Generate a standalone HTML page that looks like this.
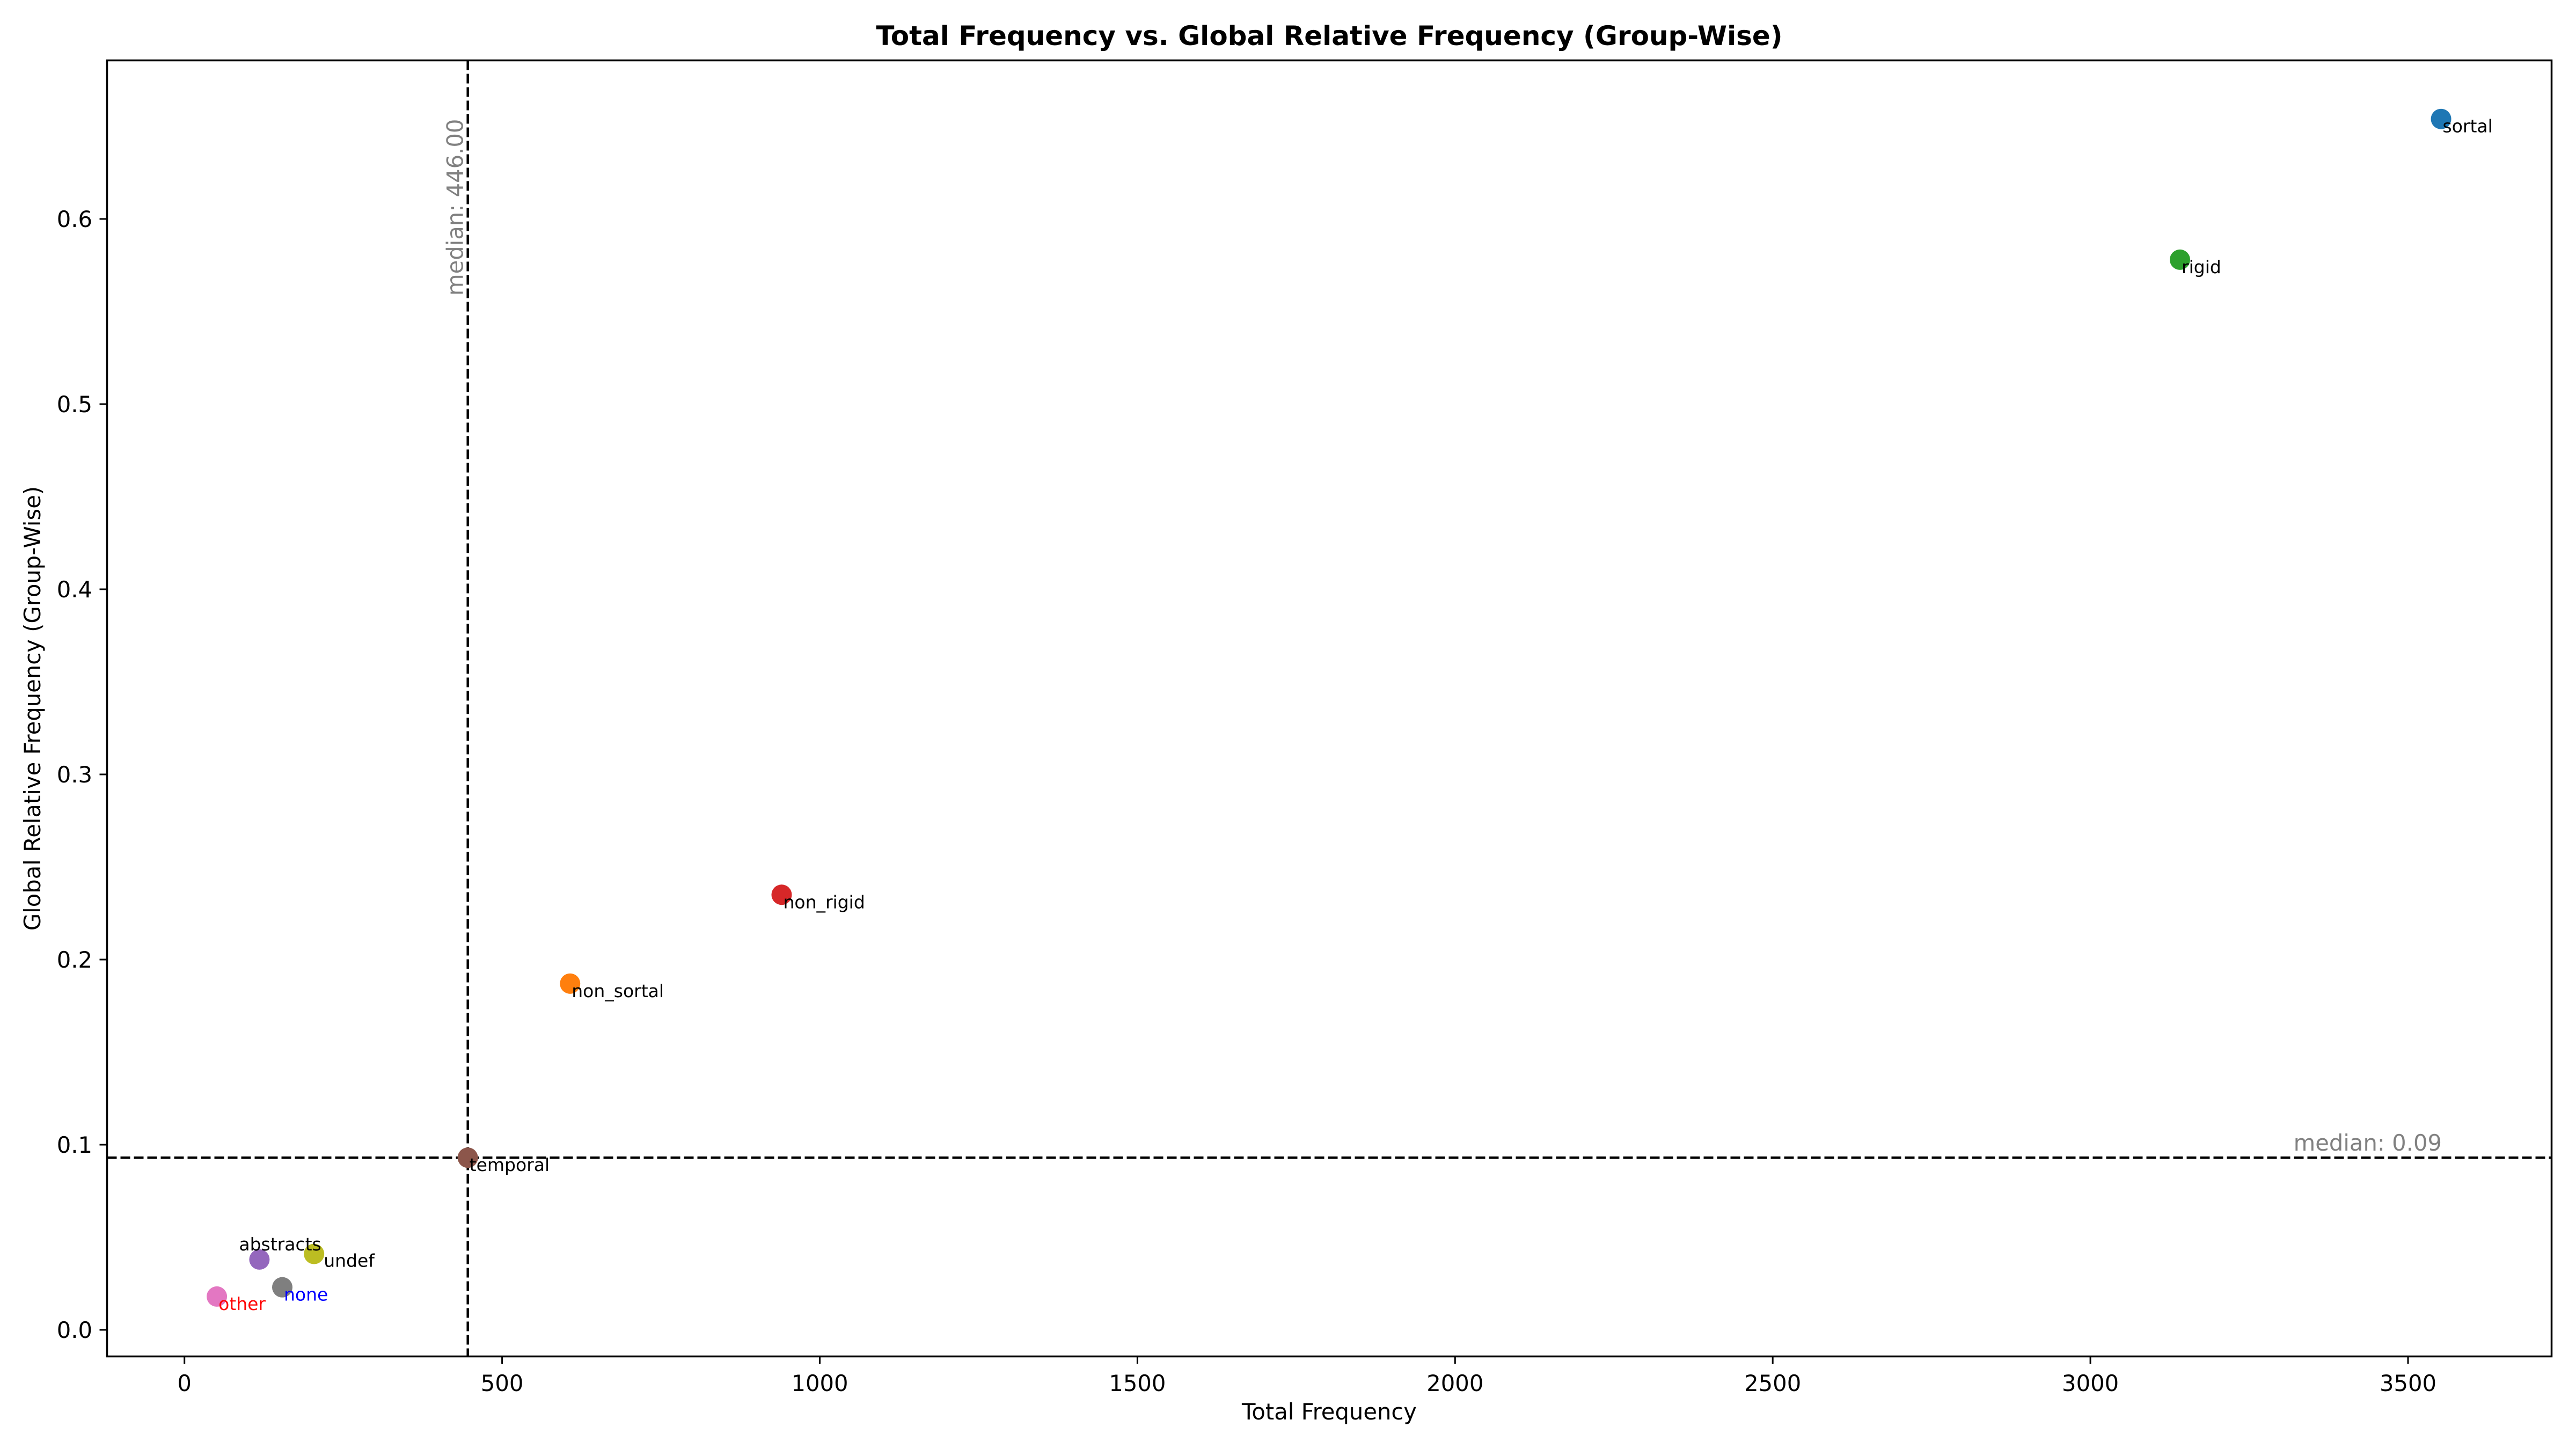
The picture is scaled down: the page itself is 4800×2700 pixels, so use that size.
<!DOCTYPE html>
<html><head><meta charset="utf-8"><style>
html,body{margin:0;padding:0;background:#fff;}
svg{display:block;font-family:"DejaVu Sans","Liberation Sans",sans-serif;}
</style></head><body>
<svg id="chart" width="4800" height="2700" viewBox="0 0 4800 2700" xmlns="http://www.w3.org/2000/svg">
<rect x="0" y="0" width="4800" height="2700" fill="#fff"/>
<text x="2477" y="84" font-size="50" font-weight="bold" text-anchor="middle">Total Frequency vs. Global Relative Frequency (Group-Wise)</text>
<g id="plot"></g>
<rect x="199.5" y="112.5" width="4555" height="2415" fill="none" stroke="#000" stroke-width="3.5"/>
<text x="2477" y="2645" font-size="41.7" text-anchor="middle">Total Frequency</text>
<text transform="translate(75,1320) rotate(-90)" font-size="41.7" text-anchor="middle">Global Relative Frequency (Group-Wise)</text>
</svg>
<script>
const categories = ["sortal","rigid","non_rigid","non_sortal","temporal","undef","abstracts","none","other"];
const totalFreq = [3552, 3141, 940, 607, 446, 204, 118, 154, 51];
const relFreq = [0.654, 0.578, 0.235, 0.187, 0.093, 0.041, 0.038, 0.023, 0.018];
const colors = ["#1f77b4","#2ca02c","#d62728","#ff7f0e","#8c564b","#bcbd22","#9467bd","#7f7f7f","#e377c2"];
const labelColors = ["#000","#000","#000","#000","#000","#000","#000","blue","red"];
const xTicks = [0,500,1000,1500,2000,2500,3000,3500];
const yTicks = [0.0,0.1,0.2,0.3,0.4,0.5,0.6];
const medianX = 446.00;
const medianY = 0.093;

const L=199.5,R=4754.5,T=112.5,B=2527.5;
function xs(v){return 343.7 + v*1.1838;}
function ys(v){return 2478 - v*3450;}
const NS="http://www.w3.org/2000/svg";
const g=document.getElementById('plot');
function mk(tag,attrs,text){const e=document.createElementNS(NS,tag);for(const k in attrs)e.setAttribute(k,attrs[k]);if(text!==undefined)e.textContent=text;g.appendChild(e);return e;}

xTicks.forEach(t=>{
  const x=xs(t);
  const tk=mk('line',{x1:x,x2:x,y1:B,y2:B+14,stroke:'#000','stroke-width':3});
  
  
  const lb=mk('text',{x:x,y:2592,'font-size':41.7,'text-anchor':'middle'},String(t));
  
  
});
yTicks.forEach(t=>{
  const y=ys(t);
  const tk=mk('line',{x1:L-14,x2:L,y1:y,y2:y,stroke:'#000','stroke-width':3});
  
  
  const lb=mk('text',{x:172,y:y+15,'font-size':41.7,'text-anchor':'end'},t.toFixed(1));
  
  
});

const mx=xs(medianX);
const vl=mk('line',{x1:mx,x2:mx,y1:T,y2:B,stroke:'#000','stroke-width':4.5,'stroke-dasharray':'18,7'});


const my=ys(medianY);
const hl=mk('line',{x1:L,x2:R,y1:my,y2:my,stroke:'#000','stroke-width':4.5,'stroke-dasharray':'18,7'});


const vt=mk('text',{transform:'translate('+(mx-9)+',551) rotate(-90)','font-size':41.7,fill:'#808080'},'median: '+medianX.toFixed(2));


const ht=mk('text',{x:4550,y:my-13,'font-size':41.7,fill:'#808080','text-anchor':'end'},'median: '+medianY.toFixed(2));



categories.forEach((c,i)=>{
  const x=xs(totalFreq[i]),y=ys(relFreq[i]);
  const p=mk('circle',{cx:x,cy:y,r:19,fill:colors[i]});
  
  
  let tx=x+3,ty=y+25;
  if(c==='abstracts'){tx=x-38;ty=y-17;}
  if(c==='undef'){tx=x+18;ty=y+24;}
  const t=mk('text',{x:tx,y:ty,'font-size':33,fill:labelColors[i]},c);
  
  
});
</script>
</body></html>
